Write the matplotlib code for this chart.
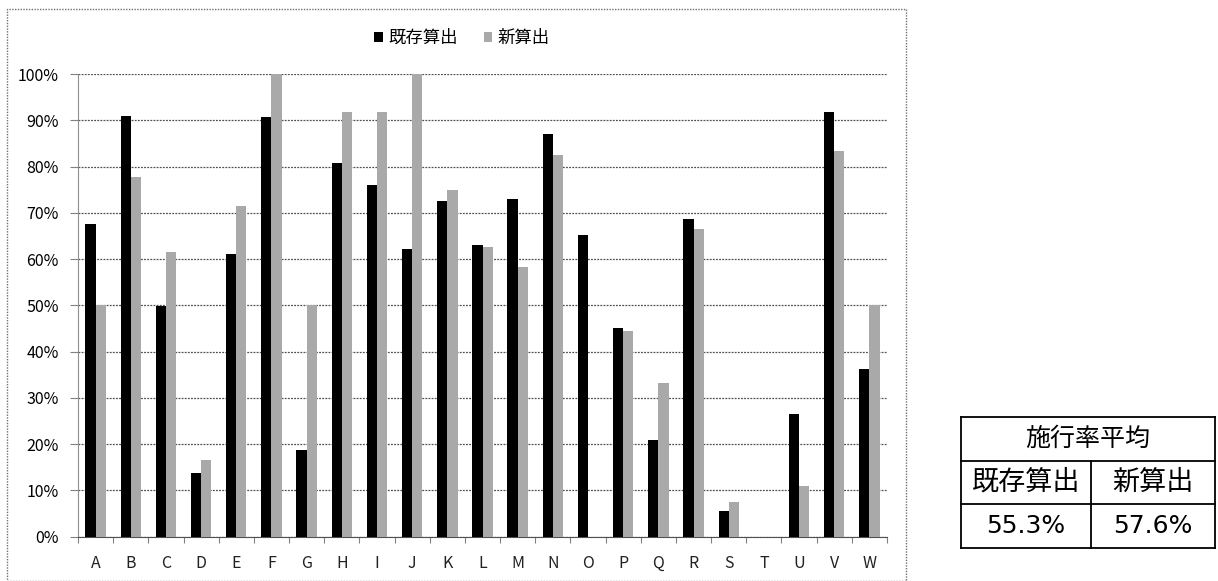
import matplotlib
matplotlib.use('Agg')
import matplotlib.pyplot as plt
import numpy as np
from matplotlib.patches import Rectangle
from matplotlib.lines import Line2D

plt.rcParams['font.family'] = ['Noto Sans CJK JP', 'DejaVu Sans']

categories = list('ABCDEFGHIJKLMNOPQRSTUVW')
existing = [67.6, 91.0, 49.8, 13.8, 61.2, 90.6, 18.7, 80.7, 76.0, 62.2, 72.5, 63.0,
            73.0, 87.1, 65.2, 45.0, 21.0, 68.6, 5.5, 0.0, 26.6, 91.7, 36.3]
new_calc = [50.0, 77.8, 61.5, 16.5, 71.5, 100.0, 50.0, 91.7, 91.7, 100.0, 75.0, 62.6,
            58.3, 82.4, 0.0, 44.4, 33.2, 66.6, 7.5, 0.0, 10.9, 83.4, 50.0]
series_names = ['既存算出', '新算出']
table_title = '施行率平均'
avg_values = ['55.3%', '57.6%']

W, H = 1218, 581
fig = plt.figure(figsize=(W / 100, H / 100), dpi=100)

# chart frame
fig.patches.append(Rectangle((7 / W, 0), (906 - 7) / W, (H - 9) / H, transform=fig.transFigure,
                             fill=False, edgecolor='#707070', linewidth=1.0, linestyle=(0, (1, 1))))

ax = fig.add_axes([78 / W, (H - 536.7) / H, (887 - 78) / W, (536.7 - 74) / H])
x = np.arange(len(categories))
bw = 0.29
ax.bar(x - bw / 2, existing, bw, color='black', label=series_names[0], zorder=3)
ax.bar(x + bw / 2, new_calc, bw, color='#a9a9a9', label=series_names[1], zorder=3)

ax.set_xlim(-0.5, len(categories) - 0.5)
ax.set_ylim(0, 100)
ax.set_yticks(np.arange(0, 101, 10))
ax.set_yticklabels([f'{v}%' for v in range(0, 101, 10)], fontsize=11.5)
ax.yaxis.grid(True, linestyle=(0, (1.5, 1)), color='#505050', linewidth=0.9, zorder=0)
ax.tick_params(axis='y', length=6, color='#808080', width=0.8, pad=8)

ax.set_xticks(x)
ax.set_xticklabels(categories, fontsize=11.5, color='#222222')
ax.tick_params(axis='x', length=0, pad=13)
ax.set_xticks(np.arange(-0.5, len(categories), 1), minor=True)
ax.tick_params(axis='x', which='minor', length=4, color='#808080', width=0.8)

for s in ['top', 'right']:
    ax.spines[s].set_visible(False)
ax.spines['left'].set_color('#909090')
ax.spines['left'].set_linestyle((0, (1, 1)))
ax.spines['bottom'].set_color('#505050')
ax.spines['bottom'].set_linestyle((0, (1.5, 1)))

leg = fig.legend(loc='center', bbox_to_anchor=(462 / W, 1 - 38 / H), ncol=2, frameon=False,
                 fontsize=12.5, handlelength=0.5, handleheight=0.5, handletextpad=0.3,
                 columnspacing=1.5)

# summary table
tl, tr, tt, tb = 961, 1215, 417, 548
r1, r2, mid = 461, 504, 1091
def fx(px):
    return px / W
def fy(py):
    return 1 - py / H
lw = 1.3
for (x0, y0, x1, y1) in [(tl, tt, tr, tt), (tl, tb, tr, tb), (tl, tt, tl, tb), (tr, tt, tr, tb),
                         (tl, r1, tr, r1), (tl, r2, tr, r2), (mid, r1, mid, tb)]:
    fig.lines.append(Line2D([fx(x0), fx(x1)], [fy(y0), fy(y1)], transform=fig.transFigure,
                            color='black', linewidth=lw))
fig.text(fx((tl + tr) / 2), fy((tt + r1) / 2), table_title, ha='center', va='center', fontsize=18)
fig.text(fx((tl + mid) / 2), fy((r1 + r2) / 2), series_names[0], ha='center', va='center', fontsize=19.5)
fig.text(fx((mid + tr) / 2), fy((r1 + r2) / 2), series_names[1], ha='center', va='center', fontsize=19.5)
fig.text(fx((tl + mid) / 2), fy((r2 + tb) / 2), avg_values[0], ha='center', va='center',
         fontsize=18, family='DejaVu Sans')
fig.text(fx((mid + tr) / 2), fy((r2 + tb) / 2), avg_values[1], ha='center', va='center',
         fontsize=18, family='DejaVu Sans')

fig.savefig('out.png', dpi=100)
